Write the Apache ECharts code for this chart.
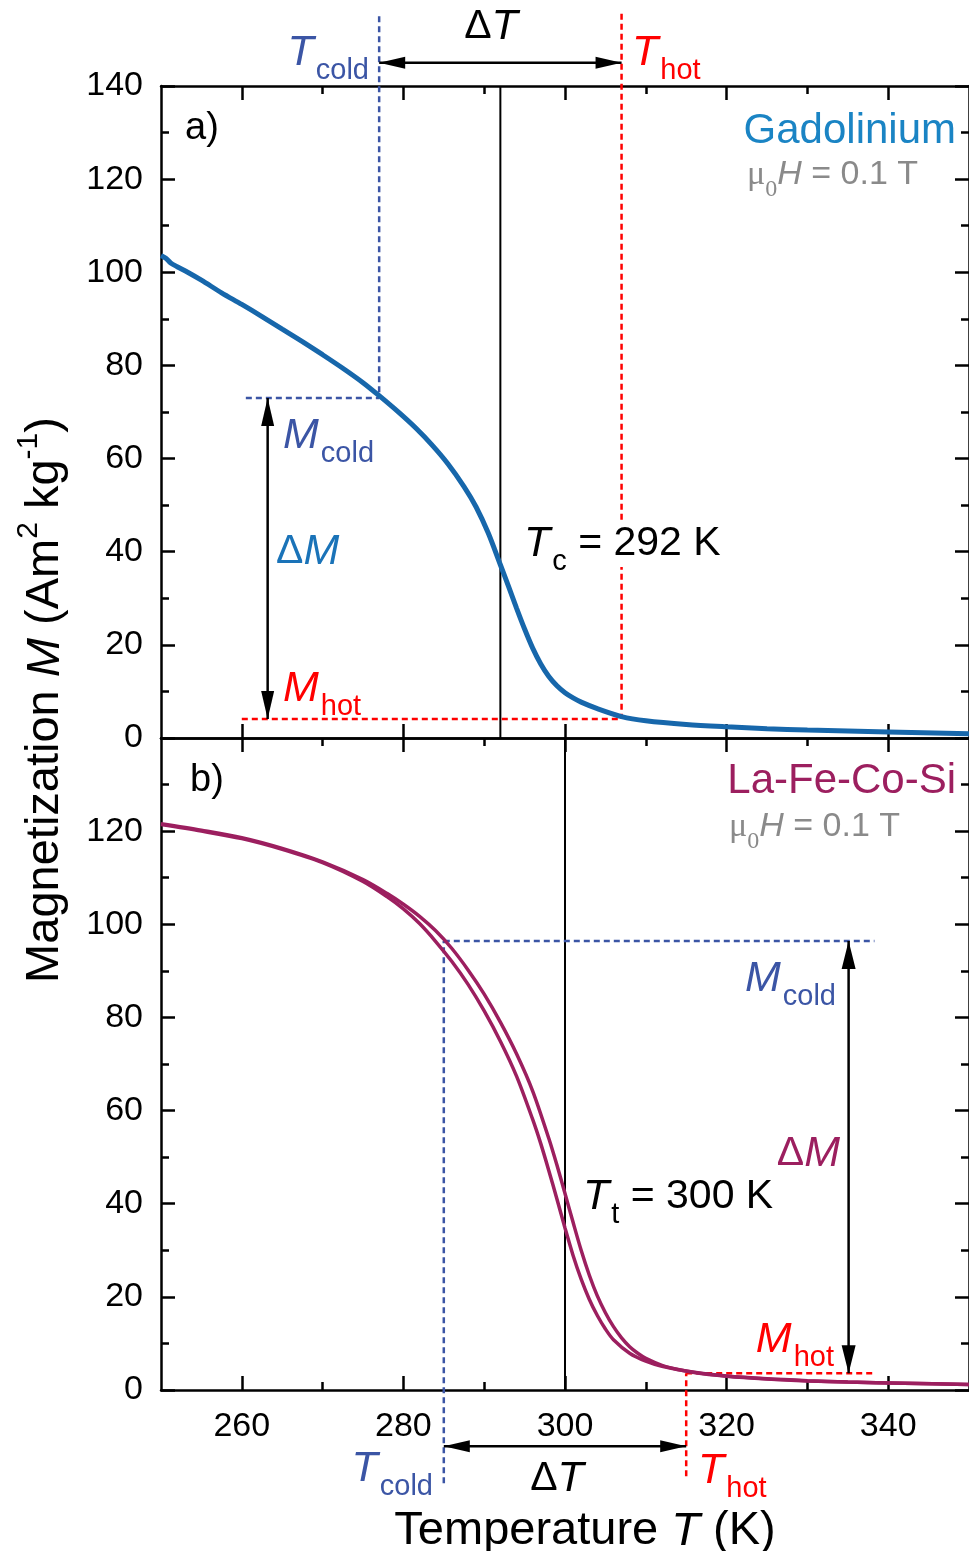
<!DOCTYPE html>
<html>
<head>
<meta charset="utf-8">
<script src="https://cdn.jsdelivr.net/npm/echarts@6/dist/echarts.min.js"></script>
<style>
html, body { margin: 0; padding: 0; background: #fff; }
#chart { width: 969px; height: 1551px; }
</style>
</head>
<body>
<div id="chart"></div>
<script>
// axes
const tempMin = 250
const tempMax = 350
const tempMajor = [260, 280, 300, 320, 340]
const tempMinor = [270, 290, 310, 330]
const magMin = 0
const magMax = 140
const magStep = 20

// a) gadolinium
const gdT = [250, 250.6, 251.2, 252, 253.3, 255, 257.5, 260, 262.5, 265, 267.5, 270, 272.5, 275, 277,
  279.5, 281.5, 283.5, 285.5, 287.5, 289, 290.5, 292, 293, 294, 295, 296, 297, 298, 299, 300,
  301, 302, 304, 307, 310, 315, 320, 325, 330, 340, 350]
const gdM = [103.6, 103.0, 102.0, 101.2, 100.0, 98.3, 95.6, 93.1, 90.5, 87.8, 85.1, 82.3, 79.4, 76.3, 73.5,
  69.8, 66.6, 63.0, 58.9, 54.0, 49.6, 44.0, 37.2, 32.6, 27.9, 23.4, 19.3, 15.9, 13.2, 11.2, 9.7,
  8.6, 7.7, 6.3, 4.6, 3.7, 2.9, 2.4, 2.0, 1.7, 1.3, 0.9]

// b) La-Fe-Co-Si, heating / cooling branch
const heatT = [250, 255, 260, 265, 270, 275, 278, 280, 282, 284, 286, 288, 290, 292, 294, 296, 298, 299,
  300, 301, 302, 303, 304, 305, 306, 307, 308, 309, 310, 312, 314, 316, 320, 325, 330, 335, 342, 350]
const heatM = [121.6, 120.2, 118.6, 116.3, 113.4, 109.6, 106.6, 104.3, 101.7, 98.6, 94.8, 90.2, 85.0, 79.0, 72.2, 64.2, 54.0, 48.3,
  42.2, 36.0, 30.0, 24.7, 20.2, 16.6, 13.6, 11.2, 9.3, 7.9, 6.8, 5.3, 4.4, 3.8, 3.0, 2.4, 2.0, 1.7, 1.45, 1.2]
const coolT = [250, 255, 260, 265, 270, 275, 278, 280, 282, 284, 286, 288, 290, 292, 294, 296, 297, 298,
  299, 300, 301, 302, 303, 304, 305, 306, 308, 310, 312, 316, 320, 325, 330, 335, 342, 350]
const coolM = [121.4, 120.0, 118.4, 116.1, 113.25, 109.2, 105.9, 103.3, 100.15, 96.3, 92.0, 87.1, 81.4, 74.9, 67.4, 58.1, 52.9, 47.1,
  41.0, 34.8, 28.9, 23.8, 19.5, 16.0, 13.1, 10.8, 7.9, 6.2, 5.1, 3.75, 2.95, 2.35, 1.95, 1.7, 1.45, 1.2]

// marked temperatures and magnetizations
const gdMarks = { tc: 292, tCold: 277, tHot: 307, mCold: 73, mHot: 4.1 }
const lfMarks = { tt: 300, tCold: 285, tHot: 315, mCold: 96.4, mHot: 3.6 }

const FONT = 'Liberation Sans'
const BLUE = '#3b55a5'
const RED = '#ff0000'
const GD = '#1767ab'
const LF = '#9c1f5f'
const GRAY = '#8a8a8a'

let chart = echarts.init(document.getElementById('chart'))

const lineW = 2.5
function xAxis(grid, pos, ticks, len, showLine, labels) {
  return {
    type: 'value', gridIndex: grid, position: pos, min: tempMin, max: tempMax,
    axisLine: { show: showLine, onZero: false, lineStyle: { color: '#000', width: lineW } },
    axisTick: { show: true, inside: true, length: len, customValues: ticks, lineStyle: { color: '#000', width: lineW } },
    axisLabel: labels
      ? { show: true, customValues: tempMajor, margin: 20, color: '#000', fontSize: 34, fontFamily: FONT }
      : { show: false },
    splitLine: { show: false }
  }
}
function yAxis(grid, pos, labels, hideMax) {
  return {
    type: 'value', gridIndex: grid, position: pos, min: magMin, max: magMax, interval: magStep,
    axisLine: { show: true, onZero: false, lineStyle: { color: '#000', width: lineW } },
    axisTick: { show: true, inside: true, length: 14, lineStyle: { color: '#000', width: lineW } },
    minorTick: { show: true, splitNumber: 2, length: 8, lineStyle: { color: '#000', width: lineW } },
    axisLabel: labels
      ? { show: true, margin: 18, color: '#000', fontSize: 34, fontFamily: FONT, showMaxLabel: !hideMax }
      : { show: false },
    splitLine: { show: false }
  }
}

function pairs(xs, ys) {
  return xs.map((x, i) => [x, ys[i]])
}
function curve(xi, yi, xs, ys, color, width) {
  return {
    type: 'line', xAxisIndex: xi, yAxisIndex: yi, data: pairs(xs, ys),
    showSymbol: false, symbol: 'none', smooth: 0.3,
    lineStyle: { color: color, width: width }, silent: true, z: 5
  }
}
function guide(xi, yi, pts, color, dashed, width) {
  return {
    type: 'line', xAxisIndex: xi, yAxisIndex: yi, data: pts, showSymbol: false, symbol: 'none',
    clip: false, silent: true, z: 3,
    lineStyle: { color: color, width: width || 2.5, type: dashed ? [6, 4] : 'solid' }
  }
}
function arrow(xi, yi, a, b, size) {
  const horiz = a[1] === b[1]
  const len = size[1]
  const ends = [a, b].map((p, i) => {
    const other = i === 0 ? b : a
    let rot, off
    if (horiz) {
      const left = p[0] < other[0]
      rot = left ? 90 : -90
      off = [left ? len / 2 : -len / 2, 0]
    } else {
      const top = p[1] > other[1]
      rot = top ? 0 : 180
      off = [0, top ? len / 2 : -len / 2]
    }
    return { value: p, symbol: 'triangle', symbolSize: size, symbolRotate: rot, symbolOffset: off }
  })
  return {
    type: 'line', xAxisIndex: xi, yAxisIndex: yi, data: ends, showSymbol: true, symbol: 'triangle',
    clip: false, silent: true, z: 4,
    itemStyle: { color: '#000' }, lineStyle: { color: '#000', width: 2.5 }
  }
}

// rich text pieces
const richBase = {
  n: { fontSize: 41, fontFamily: FONT, verticalAlign: 'top', lineHeight: 44 },
  i: { fontSize: 43, fontFamily: FONT, fontStyle: 'italic', verticalAlign: 'top', lineHeight: 44 },
  s: { fontSize: 29, fontFamily: FONT, verticalAlign: 'top', lineHeight: 28, padding: [24, 0, 0, 2] },
  m: { fontSize: 34, fontFamily: 'Liberation Serif', verticalAlign: 'top', lineHeight: 38 },
  z: { fontSize: 24, fontFamily: 'Liberation Serif', verticalAlign: 'top', lineHeight: 24, padding: [20, 0, 0, 0] },
  h: { fontSize: 34, fontFamily: FONT, fontStyle: 'italic', verticalAlign: 'top', lineHeight: 38 },
  g: { fontSize: 34, fontFamily: FONT, verticalAlign: 'top', lineHeight: 38 },
  sup: { fontSize: 30, fontFamily: FONT, verticalAlign: 'top', lineHeight: 30 },
  big: { fontSize: 47, fontFamily: FONT, verticalAlign: 'top', lineHeight: 52, padding: [8, 0, 0, 0] },
  bigI: { fontSize: 47, fontFamily: FONT, fontStyle: 'italic', verticalAlign: 'top', lineHeight: 52, padding: [8, 0, 0, 0] }
}
function txt(x, y, text, color, align, size, rot, bg) {
  return {
    type: 'text', x: x, y: y, rotation: rot || 0, z: 100, silent: true,
    style: {
      text: text, rich: richBase, fill: color, fontSize: size || 40, fontFamily: FONT,
      align: align, textAlign: align, verticalAlign: 'middle', textVerticalAlign: 'middle',
      backgroundColor: bg || null
    }
  }
}

let option = {
  animation: false,
  backgroundColor: '#fff',
  grid: [
    { left: 161, top: 86, width: 810, height: 652 },
    { left: 161, top: 738, width: 810, height: 652 }
  ],
  xAxis: [
    xAxis(0, 'bottom', tempMajor, 14, true, false), // 0
    xAxis(0, 'top', tempMajor, 14, true, false), // 1
    xAxis(0, 'top', tempMinor, 8, false, false), // 2
    xAxis(1, 'top', tempMajor, 14, true, false), // 3
    xAxis(1, 'top', tempMinor, 8, false, false), // 4
    xAxis(1, 'bottom', tempMajor, 14, true, true), // 5
    xAxis(1, 'bottom', tempMinor, 8, false, false) // 6
  ],
  yAxis: [
    yAxis(0, 'left', true, false),
    yAxis(0, 'right', false, false),
    yAxis(1, 'left', true, true),
    yAxis(1, 'right', false, false)
  ],
  series: [
    // a)
    guide(0, 0, [[gdMarks.tc, magMin], [gdMarks.tc, magMax]], '#000', false, 2),
    guide(0, 0, [[gdMarks.tCold, 155], [gdMarks.tCold, gdMarks.mCold]], BLUE, true),
    guide(0, 0, [[260.5, gdMarks.mCold], [gdMarks.tCold, gdMarks.mCold]], BLUE, true),
    guide(0, 0, [[gdMarks.tHot, 155.5], [gdMarks.tHot, gdMarks.mHot]], RED, true),
    guide(0, 0, [[260, gdMarks.mHot], [gdMarks.tHot, gdMarks.mHot]], RED, true),
    arrow(0, 0, [gdMarks.tCold, 145], [gdMarks.tHot, 145], [12, 26]),
    arrow(0, 0, [263.2, gdMarks.mCold], [263.2, gdMarks.mHot], [13, 28]),
    curve(0, 0, gdT, gdM, GD, 5),
    // b)
    guide(5, 2, [[lfMarks.tt, magMin], [lfMarks.tt, magMax]], '#000', false, 2),
    guide(5, 2, [[lfMarks.tCold, -20], [lfMarks.tCold, lfMarks.mCold]], BLUE, true),
    guide(5, 2, [[lfMarks.tCold, lfMarks.mCold], [338.3, lfMarks.mCold]], BLUE, true),
    guide(5, 2, [[lfMarks.tHot, -18.5], [lfMarks.tHot, lfMarks.mHot]], RED, true),
    guide(5, 2, [[lfMarks.tHot, lfMarks.mHot], [338.3, lfMarks.mHot]], RED, true),
    arrow(5, 2, [lfMarks.tCold, -12.1], [lfMarks.tHot, -12.1], [12, 26]),
    arrow(5, 2, [335.1, lfMarks.mCold], [335.1, lfMarks.mHot], [14, 28]),
    curve(5, 2, heatT, heatM, LF, 3.5),
    curve(5, 2, coolT, coolM, LF, 3.5)
  ],
  graphic: [
    // a)
    txt(491, 28, '{n|Δ}{i|T}', '#000', 'center'),
    txt(369, 54, '{i|T}{s|cold}', BLUE, 'right'),
    txt(632, 54, '{i|T}{s|hot}', RED, 'left'),
    txt(185, 129, 'a)', '#000', 'left', 38),
    txt(956, 131, 'Gadolinium', '#1a84c4', 'right', 42),
    txt(918, 177, '{m|μ}{z|0}{h|H}{g| = 0.1 T}', GRAY, 'right'),
    txt(283, 437, '{i|M}{s|cold}', BLUE, 'left'),
    txt(276, 553, '{n|Δ}{i|M}', '#1a73b8', 'left'),
    txt(283, 690, '{i|M}{s|hot}', RED, 'left'),
    txt(524, 545, '{i|T}{s|c}{n| = 292 K}', '#000', 'left', 40, 0, '#fff'),
    // b)
    txt(190, 781, 'b)', '#000', 'left', 38),
    txt(956, 781, 'La-Fe-Co-Si', LF, 'right', 42),
    txt(900, 829, '{m|μ}{z|0}{h|H}{g| = 0.1 T}', GRAY, 'right'),
    txt(836, 980, '{i|M}{s|cold}', BLUE, 'right'),
    txt(840, 1155, '{n|Δ}{i|M}', LF, 'right'),
    txt(834, 1341, '{i|M}{s|hot}', RED, 'right'),
    txt(583, 1198, '{i|T}{s|t}{n| = 300 K}', '#000', 'left'),
    txt(433, 1470, '{i|T}{s|cold}', BLUE, 'right'),
    txt(557, 1480, '{n|Δ}{i|T}', '#000', 'center'),
    txt(698, 1472, '{i|T}{s|hot}', RED, 'left'),
    // axis titles
    txt(585, 1526, '{big|Temperature }{bigI|T}{big| (K)}', '#000', 'center'),
    txt(40, 700, '{big|Magnetization }{bigI|M}{big| (Am}{sup|2}{big| kg}{sup|-1}{big|)}', '#000', 'center', 47, Math.PI / 2)
  ]
}
chart.setOption(option)
</script>
</body>
</html>
